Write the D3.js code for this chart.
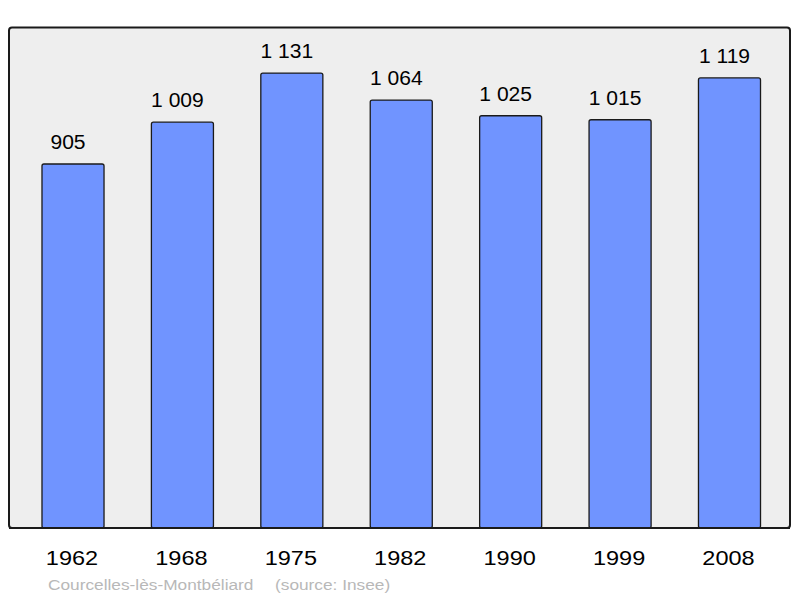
<!DOCTYPE html>
<html>
<head>
<script src="https://cdn.jsdelivr.net/npm/d3@7"></script>
<style>
  body { margin: 0; background: #fff; }
  text { font-family: "Liberation Sans", Arial, sans-serif; }
</style>
</head>
<body>
<script>
var years = ["1962", "1968", "1975", "1982", "1990", "1999", "2008"];
var population = [905, 1009, 1131, 1064, 1025, 1015, 1119];
var labels = ["905", "1 009", "1 131", "1 064", "1 025", "1 015", "1 119"];

var svg = d3.select("body").append("svg")
    .attr("width", 800)
    .attr("height", 598);

var baseY = 528;
var stretch = 1.12; // text in the picture is slightly wide

// frame
svg.append("rect")
    .attr("x", 9).attr("y", 27.5)
    .attr("width", 781).attr("height", 500.5)
    .attr("rx", 3)
    .attr("fill", "#eeeeee")
    .attr("stroke", "#1a1a1a")
    .attr("stroke-width", 2);

var x = d3.scaleBand()
    .domain(years)
    .range([18.3, 784.2])
    .paddingInner(0.433)
    .paddingOuter(0.2165);

var y = d3.scaleLinear()
    .domain([0, 1245.6])
    .range([baseY, 27]);

var data = years.map(function (d, i) { return { year: d, v: population[i], label: labels[i] }; });

svg.selectAll("rect.bar")
    .data(data)
    .enter().append("rect")
    .attr("class", "bar")
    .attr("x", function (d) { return x(d.year); })
    .attr("y", function (d) { return y(d.v); })
    .attr("width", x.bandwidth())
    .attr("height", function (d) { return baseY - y(d.v); })
    .attr("rx", 2)
    .attr("fill", "#7094ff")
    .attr("stroke", "#1a1a1a")
    .attr("stroke-width", 1.3);

// redraw bottom frame line over bars
svg.append("line")
    .attr("x1", 9).attr("x2", 790)
    .attr("y1", baseY).attr("y2", baseY)
    .attr("stroke", "#1a1a1a")
    .attr("stroke-width", 2);

svg.selectAll("text.val")
    .data(data)
    .enter().append("text")
    .attr("class", "val")
    .attr("transform", function (d) {
        return "translate(" + (x(d.year) + x.bandwidth() / 2 - 5) + "," + (y(d.v) - 15) + ") scale(1.08,1)";
    })
    .attr("text-anchor", "middle")
    .attr("font-size", "19.5px")
    .attr("fill", "#000")
    .text(function (d) { return d.label; });

svg.selectAll("text.year")
    .data(years)
    .enter().append("text")
    .attr("class", "year")
    .attr("transform", function (d) {
        return "translate(" + (x(d) + x.bandwidth() / 2 - 1) + ",564.5) scale(" + stretch + ",1)";
    })
    .attr("text-anchor", "middle")
    .attr("font-size", "21px")
    .attr("fill", "#000")
    .text(function (d) { return d; });

var foot = svg.append("g").attr("fill", "#b8b8b8").attr("font-size", "15.3px");
foot.append("text")
    .attr("transform", "translate(48,590) scale(1.13,1)")
    .text("Courcelles-lès-Montbéliard");
foot.append("text")
    .attr("transform", "translate(275,590) scale(1.13,1)")
    .text("(source: Insee)");
</script>
</body>
</html>
